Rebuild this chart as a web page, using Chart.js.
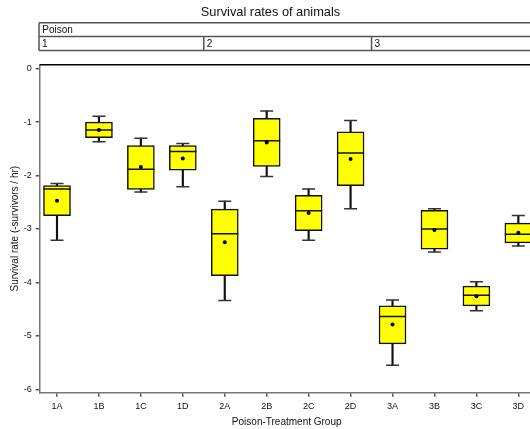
<!DOCTYPE html>
<html><head><meta charset="utf-8">
<script src="https://cdn.jsdelivr.net/npm/chart.js@4/dist/chart.umd.min.js"></script>
<style>html,body{margin:0;padding:0;overflow:hidden;background:#fff;width:530px;height:429px}#wrap{position:relative;width:530px;height:429px;overflow:hidden}canvas{display:block;position:absolute;left:0;top:0}</style>
</head><body><div id="wrap"><canvas id="c" width="541" height="429" style="width:541px;height:429px"></canvas></div>
<script>
const chartTitle = 'Survival rates of animals';
const xTitle = 'Poison-Treatment Group';
const yTitle = 'Survival rate (-survivors / hr)';
const poisonTitle = 'Poison';
const poisonLevels = ['1', '2', '3'];
const groups = ['1A','1B','1C','1D','2A','2B','2C','2D','3A','3B','3C','3D'];
const whiskerHigh = [-2.15,-0.89,-1.30,-1.40,-2.48,-0.79,-2.25,-0.97,-4.33,-2.62,-3.99,-2.75];
const q3 = [-2.19,-1.00,-1.44,-1.44,-2.63,-0.93,-2.37,-1.18,-4.44,-2.65,-4.07,-2.89];
const median = [-2.25,-1.15,-1.88,-1.55,-3.09,-1.35,-2.66,-1.58,-4.64,-3.00,-4.24,-3.10];
const mean = [-2.47,-1.15,-1.84,-1.68,-3.25,-1.38,-2.70,-1.69,-4.79,-3.02,-4.26,-3.07];
const q1 = [-2.75,-1.29,-2.26,-1.90,-3.875,-1.83,-3.03,-2.19,-5.15,-3.38,-4.44,-3.26];
const whiskerLow = [-3.21,-1.37,-2.31,-2.21,-4.34,-2.02,-3.21,-2.62,-5.55,-3.43,-4.53,-3.32];
const yTicks = [0,-1,-2,-3,-4,-5,-6];

const FONT = "'Liberation Sans', Arial, sans-serif";
Chart.defaults.font.family = FONT;
const idx = groups.map((g, i) => i);
const boxData = idx.map(i => ({x: i, y: [q1[i], q3[i]]}));
const whiskerData = idx.map(i => ({x: i, y: [whiskerLow[i], whiskerHigh[i]]}));
const capData = idx.flatMap(i => [{x: i, y: whiskerLow[i]}, {x: i, y: whiskerHigh[i]}]);
const medianData = idx.map(i => ({x: i, y: median[i]}));
const meanData = idx.map(i => ({x: i, y: mean[i]}));

const headerPlugin = {
  id: 'header',
  afterDraw(chart) {
    const {ctx, chartArea: a, scales: {x}} = chart;
    ctx.save();
    ctx.strokeStyle = '#000'; ctx.lineWidth = 1.5;
    ctx.beginPath(); ctx.moveTo(a.left, a.top); ctx.lineTo(a.right, a.top); ctx.stroke();
    const L = a.left - 0.7, R = a.right, T = 22.7, M = 36.5, B = 50.5;
    const bounds = [L, x.getPixelForValue(3.5), x.getPixelForValue(7.5), R];
    ctx.strokeStyle = '#555'; ctx.lineWidth = 1.5;
    ctx.beginPath();
    ctx.moveTo(L, T); ctx.lineTo(R, T);
    ctx.moveTo(L, M); ctx.lineTo(R, M);
    ctx.moveTo(L, B); ctx.lineTo(R, B);
    ctx.moveTo(L, T); ctx.lineTo(L, B);
    bounds.slice(1, 3).forEach(p => { ctx.moveTo(p, M); ctx.lineTo(p, B); });
    ctx.stroke();
    ctx.fillStyle = '#111'; ctx.font = '10px ' + FONT; ctx.textBaseline = 'middle'; ctx.textAlign = 'left';
    ctx.fillText(poisonTitle, L + 3.3, (T + M) / 2 + 0.5);
    poisonLevels.forEach((t, k) => ctx.fillText(t, bounds[k] + 3, (M + B) / 2 + 0.5));
    ctx.restore();
  }
};

new Chart(document.getElementById('c'), {
  type: 'bar',
  data: {datasets: [
    {type: 'line', data: meanData, showLine: false, pointStyle: 'circle', pointRadius: 2, pointBackgroundColor: '#000', pointBorderWidth: 0, order: 1},
    {type: 'line', data: capData, showLine: false, pointStyle: 'line', pointRadius: 6.5, pointBorderColor: '#333', pointBorderWidth: 1.5, order: 2},
    {type: 'line', data: medianData, showLine: false, pointStyle: 'line', pointRadius: 13.5, pointBorderColor: '#111', pointBorderWidth: 1.5, order: 3},
    {type: 'bar', data: boxData, backgroundColor: '#ffff00', borderColor: '#111', borderWidth: 1.5, borderSkipped: false, barThickness: 27, grouped: false, order: 4},
    {type: 'bar', data: whiskerData, backgroundColor: '#111', borderWidth: 0, barThickness: 1.5, grouped: false, order: 5}
  ]},
  options: {
    responsive: false, animation: false, events: [], devicePixelRatio: 1,
    layout: {autoPadding: false, padding: {left: 7.3, right: 7.3, top: 0, bottom: 0}},
    plugins: {
      legend: {display: false}, tooltip: {enabled: false},
      title: {display: true, text: chartTitle, font: {size: 12.8, weight: 'normal'}, color: '#111', padding: {top: 4.3, bottom: 45}}
    },
    scales: {
      x: {
        type: 'linear', min: -0.4125, max: 11.366, offset: false,
        afterBuildTicks: s => { s.ticks = idx.map(i => ({value: i})); },
        afterFit: s => { s.height = 36.3; },
        ticks: {callback: v => groups[v], font: {size: 9}, color: '#111', padding: 4, maxRotation: 0, autoSkip: false},
        grid: {display: true, offset: false, drawOnChartArea: false, drawTicks: true, tickLength: 4, color: '#555', lineWidth: 1.5},
        border: {display: true, color: '#777', width: 1.5},
        title: {display: true, text: xTitle, font: {size: 10}, color: '#111', padding: {top: 0, bottom: 0.6}}
      },
      y: {
        type: 'linear', min: -6.064, max: 0.075,
        afterBuildTicks: s => { s.ticks = yTicks.map(v => ({value: v})); },
        afterFit: s => { s.width = 32.4; },
        ticks: {callback: v => String(v), font: {size: 9}, color: '#111', padding: 4},
        grid: {display: true, drawOnChartArea: false, drawTicks: true, tickLength: 4, color: '#555', lineWidth: 1.5},
        border: {display: true, color: '#777', width: 1.5},
        title: {display: true, text: yTitle, font: {size: 10}, color: '#111', padding: {top: 1.7, bottom: 0}}
      }
    }
  },
  plugins: [headerPlugin]
});
</script>
</body></html>
